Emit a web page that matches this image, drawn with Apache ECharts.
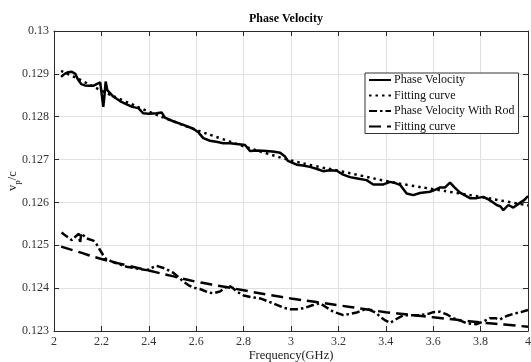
<!DOCTYPE html>
<html>
<head>
<meta charset="utf-8">
<script src="https://cdn.jsdelivr.net/npm/echarts@6/dist/echarts.min.js"></script>
<style>
  html, body { margin: 0; padding: 0; background: #fff; }
  #chart { width: 531px; height: 362px; }
</style>
</head>
<body>
<div id="chart"></div>
<script>
// Measured phase velocity (v_p/c) versus frequency, without rod
const pvFreq = [2.03, 2.045, 2.06, 2.075, 2.09, 2.10, 2.115, 2.13, 2.15, 2.165, 2.18, 2.195, 2.203, 2.208, 2.213, 2.218,
  2.225, 2.25, 2.28, 2.307, 2.33, 2.356, 2.377, 2.40, 2.433, 2.454, 2.468, 2.50, 2.546, 2.588, 2.61, 2.63, 2.658, 2.69,
  2.714, 2.743, 2.78, 2.806, 2.827, 2.86, 2.897, 2.93, 2.954, 2.975, 2.987, 3.024, 3.05, 3.08, 3.11, 3.135, 3.165, 3.193,
  3.22, 3.249, 3.28, 3.319, 3.347, 3.39, 3.418, 3.44, 3.46, 3.488, 3.516, 3.544, 3.586, 3.61, 3.629, 3.65, 3.671, 3.69,
  3.713, 3.755, 3.783, 3.811, 3.83, 3.847, 3.868, 3.885, 3.896, 3.917, 3.938, 3.966, 3.985, 4.0];
const pvValues = [0.12893, 0.12900, 0.12904, 0.12905, 0.12900, 0.12888, 0.12876, 0.12873, 0.12872, 0.12872, 0.12876,
  0.12880, 0.12878, 0.12823, 0.12850, 0.12882, 0.12862, 0.12847, 0.12836, 0.12829, 0.12823, 0.12820, 0.12808, 0.12807,
  0.12808, 0.12810, 0.12798, 0.12790, 0.12781, 0.12772, 0.12763, 0.12750, 0.12744, 0.12741, 0.12738, 0.12738, 0.12736,
  0.12734, 0.12720, 0.12721, 0.12720, 0.12718, 0.12716, 0.12707, 0.12697, 0.12688, 0.12686, 0.12683, 0.12678, 0.12673,
  0.12675, 0.12674, 0.12665, 0.12659, 0.12656, 0.12652, 0.12642, 0.12642, 0.12648, 0.12645, 0.12641, 0.12621, 0.12617,
  0.12622, 0.12625, 0.12630, 0.12635, 0.12635, 0.12646, 0.12635, 0.12623, 0.12610, 0.12610, 0.12613, 0.12608, 0.12602,
  0.12594, 0.12590, 0.12582, 0.12594, 0.12588, 0.12599, 0.12606, 0.12615];

// Fitted curve for the measurement without rod
const fitFreq = [2.03, 2.1, 2.2, 2.3, 2.4, 2.5, 2.6, 2.7, 2.8, 2.9, 3.0, 3.1, 3.2, 3.3, 3.4, 3.5, 3.6, 3.7, 3.8, 3.9, 4.0];
const fitValues = [0.12907, 0.12889, 0.12861, 0.12836, 0.12812, 0.12790, 0.12769, 0.12750, 0.12731, 0.12714, 0.12698,
  0.12685, 0.12674, 0.12662, 0.12650, 0.12640, 0.12631, 0.12622, 0.12613, 0.12603, 0.12593];

// Measured phase velocity with the rod inserted
const rodFreq = [2.032, 2.05, 2.075, 2.09, 2.105, 2.11, 2.115, 2.138, 2.166, 2.18, 2.194, 2.215, 2.24, 2.264, 2.306,
  2.349, 2.391, 2.415, 2.433, 2.468, 2.503, 2.525, 2.546, 2.57, 2.588, 2.616, 2.65, 2.672, 2.70, 2.72, 2.736, 2.755,
  2.771, 2.80, 2.83, 2.87, 2.90, 2.94, 2.97, 2.996, 3.025, 3.052, 3.09, 3.122, 3.15, 3.178, 3.221, 3.25, 3.277, 3.31,
  3.33, 3.36, 3.376, 3.40, 3.418, 3.445, 3.474, 3.51, 3.544, 3.58, 3.60, 3.629, 3.66, 3.685, 3.72, 3.741, 3.783, 3.81,
  3.84, 3.862, 3.882, 3.91, 3.938, 3.97, 4.0];
const rodValues = [0.12530, 0.12522, 0.12512, 0.12520, 0.12527, 0.12505, 0.12528, 0.12516, 0.12511, 0.12502, 0.12489,
  0.12470, 0.12463, 0.12458, 0.12450, 0.12446, 0.12442, 0.12448, 0.12452, 0.12446, 0.12436, 0.12426, 0.12415, 0.12406,
  0.12401, 0.12398, 0.12390, 0.12388, 0.12392, 0.12400, 0.12407, 0.12400, 0.12392, 0.12383, 0.12379, 0.12376, 0.12370,
  0.12361, 0.12354, 0.12351, 0.12351, 0.12353, 0.12360, 0.12365, 0.12355, 0.12345, 0.12337, 0.12340, 0.12343, 0.12350,
  0.12350, 0.12342, 0.12333, 0.12324, 0.12319, 0.12328, 0.12337, 0.12337, 0.12337, 0.12340, 0.12344, 0.12345, 0.12338,
  0.12330, 0.12323, 0.12318, 0.12316, 0.12322, 0.12330, 0.12330, 0.12327, 0.12335, 0.12340, 0.12344, 0.12349];

// Fitted curve for the measurement with rod
const rodFitFreq = [2.03, 2.1, 2.2, 2.3, 2.4, 2.5, 2.6, 2.7, 2.8, 2.9, 3.0, 3.1, 3.2, 3.3, 3.4, 3.5, 3.6, 3.7, 3.8, 3.9, 4.0];
const rodFitValues = [0.12497, 0.12485, 0.12468, 0.12454, 0.12441, 0.12428, 0.12415, 0.12405, 0.12395, 0.12385, 0.12376,
  0.12368, 0.12360, 0.12352, 0.12344, 0.12338, 0.12332, 0.12326, 0.12320, 0.12315, 0.12310];

const legendLabels = {
  pv: 'Phase Velocity',
  fit: 'Fitting curve',
  rod: 'Phase Velocity With Rod',
  rodFit: 'Fitting curve'
};

const FONT = '"Liberation Serif", "Times New Roman", serif';
const pairs = (xs, ys) => xs.map((x, i) => [x, ys[i]]);

const xBase = {
  type: 'value', min: 2, max: 4, interval: 0.2,
  axisLine: { show: true, lineStyle: { color: '#2a2a2a', width: 1 } },
  axisTick: { show: true, inside: true, length: 5, lineStyle: { color: '#2a2a2a' } }
};
const yBase = {
  type: 'value', min: 0.123, max: 0.13, interval: 0.001,
  axisLine: { show: true, lineStyle: { color: '#2a2a2a', width: 1 } },
  axisTick: { show: true, inside: true, length: 5, lineStyle: { color: '#2a2a2a' } }
};

const chart = echarts.init(document.getElementById('chart'), null, { renderer: 'canvas' });
chart.setOption({
  animation: false,
  backgroundColor: '#fff',
  title: {
    text: 'Phase Velocity',
    left: 249, top: 13,
    padding: 0,
    textStyle: { fontFamily: FONT, fontSize: 12, fontWeight: 'bold', color: '#000' }
  },
  grid: { left: 54, right: 3, top: 31, bottom: 31, containLabel: false, outerBoundsMode: 'none' },
  legend: {
    orient: 'vertical',
    left: 365, top: 73,
    padding: [1, 4, 1, 3],
    itemGap: 3.5,
    itemWidth: 22, itemHeight: 12,
    backgroundColor: '#fff',
    borderColor: '#333', borderWidth: 1, borderRadius: 0,
    data: ['pv', 'fit', 'rod', 'rodFit'],
    formatter: name => legendLabels[name],
    itemStyle: { opacity: 0 },
    textStyle: { fontFamily: FONT, fontSize: 12, color: '#111', padding: [0, 0, 0, -2] }
  },
  xAxis: [
    Object.assign({}, xBase, {
      position: 'bottom',
      name: 'Frequency(GHz)', nameLocation: 'middle', nameGap: 18, nameMoveOverlap: false,
      nameTextStyle: { fontFamily: FONT, fontSize: 12.5, color: '#222' },
      axisLabel: { margin: 5, fontFamily: FONT, fontSize: 12, color: '#333' },
      splitLine: { show: true, lineStyle: { color: '#e0e0e0', width: 1 } }
    }),
    Object.assign({}, xBase, {
      position: 'top',
      axisLabel: { show: false },
      splitLine: { show: false }
    })
  ],
  yAxis: [
    Object.assign({}, yBase, {
      position: 'left',
      name: '{v|v}{s|p}{v|/c}', nameLocation: 'middle', nameGap: 32, nameRotate: 90, nameMoveOverlap: false,
      nameTextStyle: {
        fontFamily: FONT, color: '#222',
        rich: {
          v: { fontFamily: FONT, fontSize: 12.5, color: '#222' },
          s: { fontFamily: FONT, fontSize: 9, color: '#222', padding: [9, 0, 0, 0] }
        }
      },
      axisLabel: { margin: 5, fontFamily: FONT, fontSize: 12, color: '#333' },
      splitLine: { show: true, lineStyle: { color: '#e0e0e0', width: 1 } }
    }),
    Object.assign({}, yBase, {
      position: 'right',
      axisLabel: { show: false },
      splitLine: { show: false }
    })
  ],
  series: [
    {
      name: 'pv', type: 'line', xAxisIndex: 0, yAxisIndex: 0,
      data: pairs(pvFreq, pvValues),
      symbol: 'none', showSymbol: false,
      lineStyle: { color: '#000', width: 2.5, type: 'solid' },
      itemStyle: { color: '#000' }
    },
    {
      name: 'fit', type: 'line', xAxisIndex: 0, yAxisIndex: 0,
      data: pairs(fitFreq, fitValues),
      symbol: 'none', showSymbol: false, smooth: true,
      lineStyle: { color: '#000', width: 2.5, type: [2.5, 4] },
      itemStyle: { color: '#000' }
    },
    {
      name: 'rod', type: 'line', xAxisIndex: 0, yAxisIndex: 0,
      data: pairs(rodFreq, rodValues),
      symbol: 'none', showSymbol: false,
      lineStyle: { color: '#000', width: 2.5, type: [8, 3, 2.5, 3] },
      itemStyle: { color: '#000' }
    },
    {
      name: 'rodFit', type: 'line', xAxisIndex: 0, yAxisIndex: 0,
      data: pairs(rodFitFreq, rodFitValues),
      symbol: 'none', showSymbol: false, smooth: true,
      lineStyle: { color: '#000', width: 2.5, type: [12, 6] },
      itemStyle: { color: '#000' }
    }
  ]
});
</script>
</body>
</html>
